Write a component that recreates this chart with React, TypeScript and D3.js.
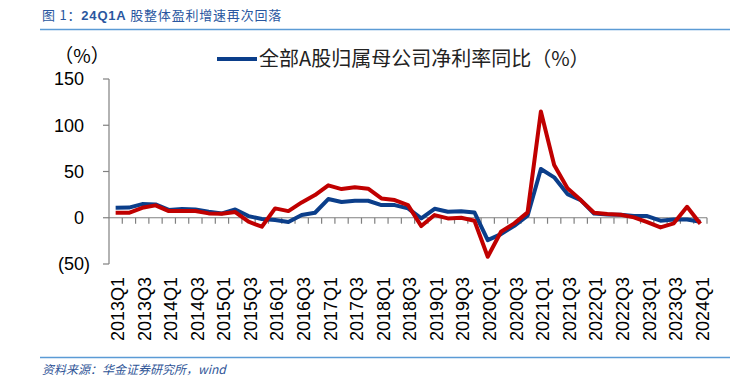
import React from "react";
import * as d3 from "d3";

const categories: string[] = [
  "2013Q1","2013Q2","2013Q3","2013Q4",
  "2014Q1","2014Q2","2014Q3","2014Q4",
  "2015Q1","2015Q2","2015Q3","2015Q4",
  "2016Q1","2016Q2","2016Q3","2016Q4",
  "2017Q1","2017Q2","2017Q3","2017Q4",
  "2018Q1","2018Q2","2018Q3","2018Q4",
  "2019Q1","2019Q2","2019Q3","2019Q4",
  "2020Q1","2020Q2","2020Q3","2020Q4",
  "2021Q1","2021Q2","2021Q3","2021Q4",
  "2022Q1","2022Q2","2022Q3","2022Q4",
  "2023Q1","2023Q2","2023Q3","2023Q4",
  "2024Q1",
];

const blueSeries: number[] = [
  10.8, 11, 14.8, 14.4,
  8.5, 9.4, 9, 6.5,
  4.7, 9, 1.8, -1.4,
  -2.5, -4.7, 2.9, 5.4,
  20.2, 17, 18.4, 18.4,
  13.7, 13.7, 10.1, -0.7,
  9.7, 6.5, 6.9, 5.8,
  -24.2, -17.7, -8.7, 2.2,
  52.7, 43.7, 25.6, 19.1,
  4.5, 3.6, 3.2, 1.8,
  1.8, -3.2, -1.8, -1.8,
  -4.3,
];

const redSeries: number[] = [
  5.4, 5.4, 10.8, 13.4,
  7.2, 7.2, 7.2, 4.7,
  4.3, 6.1, -4.3, -9.7,
  10.1, 7.2, 16.6, 24.5,
  35, 31, 32.9, 31.4,
  20.9, 19.1, 13.7, -9,
  2.9, -0.7, 0, -3.2,
  -42.2, -15.2, -6.1, 5.8,
  114.8, 57, 31.8, 19.1,
  5.4, 4, 3.2, 0.4,
  -4.7, -10.5, -6, 11.9,
  -6.5,
];

const yTicks: number[] = [-50, 0, 50, 100, 150];
const yTickLabels: string[] = ["(50)", "0", "50", "100", "150"];

const titleText = "图 1：";
const titleBold = "24Q1A";
const titleRest = " 股整体盈利增速再次回落";
const legendLabel = "全部A股归属母公司净利率同比（%）";
const unitLabel = "（%）";
const sourceText = "资料来源：华金证券研究所，wind";

const W = 730;
const H = 387;
const plotLeft = 109;
const plotRight = 707;
const yTop = 79;
const yBottom = 264;

export default function App() {
  const x = d3.scaleBand<string>().domain(categories).range([plotLeft, plotRight]).padding(0);
  const y = d3.scaleLinear().domain([-50, 150]).range([yBottom, yTop]);
  const cx = (c: string) => (x(c) as number) + x.bandwidth() / 2;

  const line = d3
    .line<number>()
    .x((_, i) => cx(categories[i]))
    .y((d) => y(d));

  const y0 = y(0);
  const numFont = "'Liberation Sans', Arial, sans-serif";
  const cjkFont = "'Noto Sans CJK SC', 'Noto Sans', sans-serif";
  const axisColor = "#808080";

  const boundaries = d3.range(categories.length + 1).map((i) => plotLeft + i * x.bandwidth());

  return (
    <svg
      width={W}
      height={H}
      style={{ position: "fixed", left: 0, top: 0, background: "#fff" }}
    >
      {/* title */}
      <text x={42} y={20} fontFamily={cjkFont} fontSize={13} fill="#2A57A0" letterSpacing={0.8}>
        {titleText}
        <tspan fontFamily={numFont} fontWeight="bold">{titleBold}</tspan>
        {titleRest}
      </text>
      <line x1={40} x2={730} y1={29.5} y2={29.5} stroke="#5B9BD5" strokeWidth={1.5} />

      {/* y axis */}
      <line x1={plotLeft} x2={plotLeft} y1={yTop} y2={yBottom} stroke={axisColor} strokeWidth={1.2} />
      {yTicks.map((t, i) => (
        <g key={t}>
          <line x1={plotLeft - 6} x2={plotLeft} y1={y(t)} y2={y(t)} stroke={axisColor} strokeWidth={1.2} />
          <text
            x={t < 0 ? 90 : 84}
            y={y(t)}
            dy="0.35em"
            textAnchor="end"
            fontFamily={numFont}
            fontSize={18}
            fill="#000"
          >
            {yTickLabels[i]}
          </text>
        </g>
      ))}
      <text x={82} y={56} dy="0.35em" textAnchor="middle" fontFamily={cjkFont} fontSize={19} fill="#000">
        {unitLabel}
      </text>

      {/* x axis */}
      <line x1={plotLeft} x2={plotRight} y1={y0} y2={y0} stroke={axisColor} strokeWidth={1.2} />
      {boundaries.slice(1).map((bx, i) => (
        <line key={i} x1={bx} x2={bx} y1={y0} y2={y0 + 6} stroke={axisColor} strokeWidth={1.2} />
      ))}
      {categories.map((c, i) =>
        i % 2 === 0 ? (
          <text
            key={c}
            transform={`translate(${cx(c) + 2},277) rotate(-90)`}
            dy="0.35em"
            textAnchor="end"
            fontFamily={numFont}
            fontSize={18}
            fill="#000"
          >
            {c}
          </text>
        ) : null
      )}

      {/* lines */}
      <path d={line(blueSeries) || ""} fill="none" stroke="#0B3E8A" strokeWidth={4} strokeLinejoin="round" />
      <path d={line(redSeries) || ""} fill="none" stroke="#C00000" strokeWidth={4} strokeLinejoin="round" />

      {/* legend */}
      <line x1={217} x2={257} y1={59} y2={59} stroke="#0B3E8A" strokeWidth={4} />
      <text x={259} y={59} dy="0.35em" fontFamily={cjkFont} fontSize={20} fill="#222">
        {legendLabel}
      </text>

      {/* footer */}
      <line x1={40} x2={730} y1={357.5} y2={357.5} stroke="#5B9BD5" strokeWidth={1.5} />
      <text x={42} y={374} fontFamily={cjkFont} fontSize={12} fontStyle="italic" fill="#2F5597">
        {sourceText}
      </text>
    </svg>
  );
}
